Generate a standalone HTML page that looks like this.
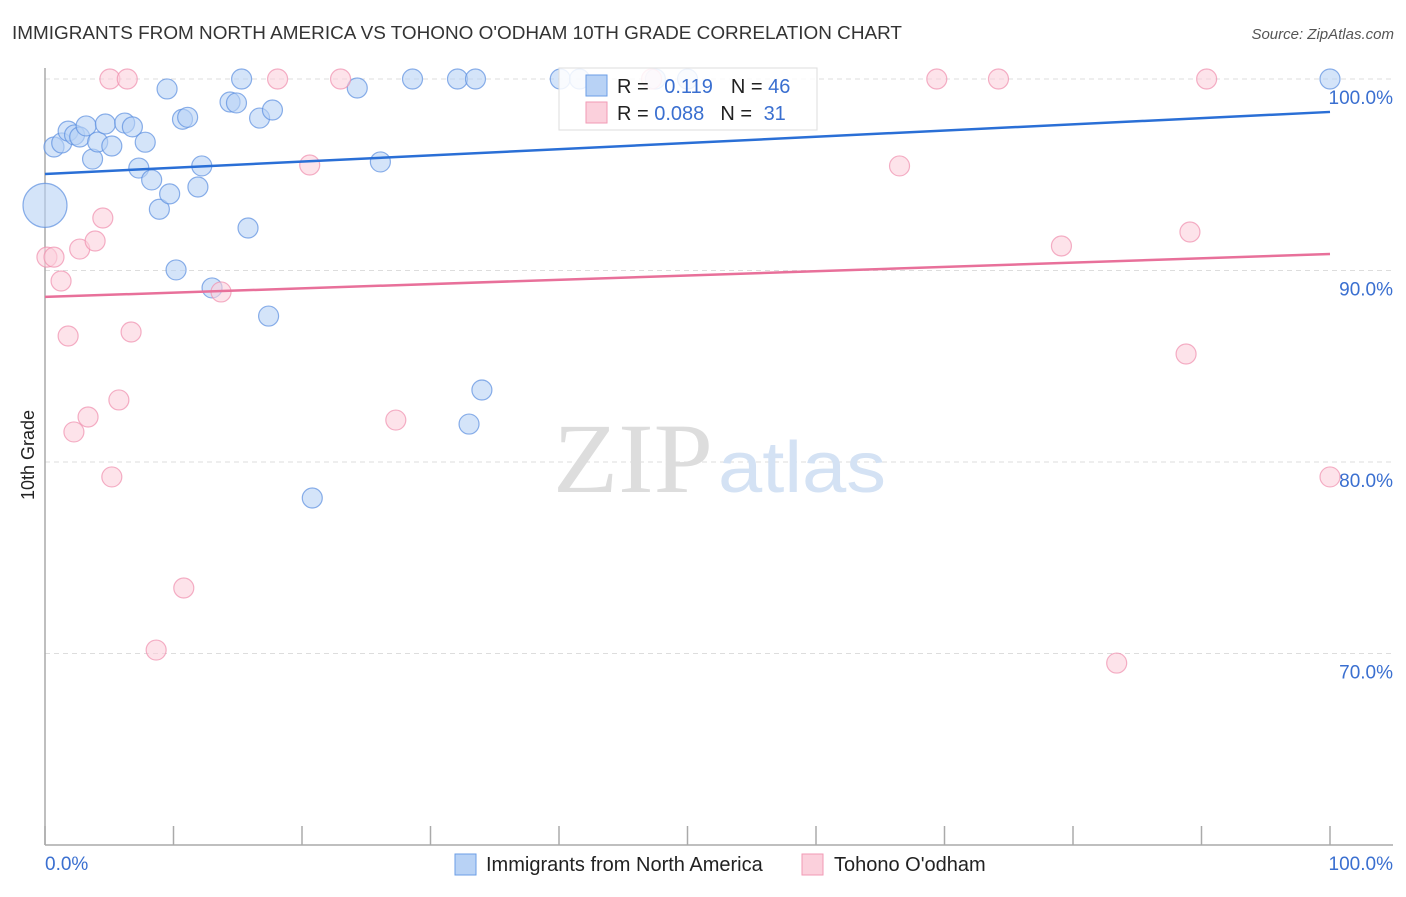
<!DOCTYPE html>
<html><head><meta charset="utf-8"><style>
body{margin:0;background:#fff;font-family:"Liberation Sans",sans-serif;}
</style></head><body>
<svg width="1406" height="892" viewBox="0 0 1406 892" xmlns="http://www.w3.org/2000/svg" font-family="Liberation Sans, sans-serif">
<text x="12" y="39" font-size="18" fill="#333" textLength="890" lengthAdjust="spacingAndGlyphs">IMMIGRANTS FROM NORTH AMERICA VS TOHONO O'ODHAM 10TH GRADE CORRELATION CHART</text>
<text x="1394" y="39" font-size="15" fill="#555" font-style="italic" text-anchor="end">Source: ZipAtlas.com</text>
<g id="grid"></g>
<text x="553" y="492" font-size="100" fill="#ddd" style="font-family:'Liberation Serif',serif" textLength="160" lengthAdjust="spacingAndGlyphs">ZIP</text>
<text x="718" y="492" font-size="72" fill="#d4e2f4" textLength="168" lengthAdjust="spacingAndGlyphs">atlas</text>
<line x1="45" y1="68" x2="45" y2="845" stroke="#aaa" stroke-width="1.5"/>
<line x1="45" y1="845" x2="1393" y2="845" stroke="#aaa" stroke-width="1.5"/>
<text transform="translate(34,455) rotate(-90)" font-size="18" fill="#222" text-anchor="middle">10th Grade</text>
<text x="45" y="870" font-size="19" fill="#3a6fd0">0.0%</text>
<text x="1393" y="870" font-size="19" fill="#3a6fd0" text-anchor="end">100.0%</text>
<g id="marks"></g>
<g>
<rect x="559" y="68" width="258" height="62" fill="#fff" fill-opacity="0.85" stroke="#ddd"/>
<rect x="586" y="75" width="21" height="21" fill="#b8d2f5" stroke="#6b9ee6"/>
<rect x="586" y="102" width="21" height="21" fill="#fbd0dc" stroke="#f19ab5"/>
<text x="617" y="93" font-size="20" fill="#222">R = <tspan fill="#3a6fd0" dx="10">0.119</tspan><tspan dx="18">N = </tspan><tspan fill="#3a6fd0">46</tspan></text>
<text x="617" y="120" font-size="20" fill="#222">R = <tspan fill="#3a6fd0">0.088</tspan><tspan dx="16">N = </tspan><tspan fill="#3a6fd0" dx="6">31</tspan></text>
</g>
<g>
<rect x="455" y="854" width="21" height="21" fill="#b8d2f5" stroke="#6b9ee6"/>
<text x="486" y="871" font-size="20" fill="#222">Immigrants from North America</text>
<rect x="802" y="854" width="21" height="21" fill="#fbd0dc" stroke="#f19ab5"/>
<text x="834" y="871" font-size="20" fill="#222">Tohono O'odham</text>
</g>
</svg>
<script>
const yTicks=[100,90,80,70];
const xTickCount=10;
const blueX=[0.7,1.3,1.8,2.3,2.7,3.2,3.7,4.1,4.7,5.2,6.2,6.8,7.3,7.8,8.3,8.9,9.5,9.7,10.2,10.7,11.1,11.9,12.2,13.0,14.4,14.9,15.3,15.8,16.7,17.4,17.7,20.8,24.3,26.1,28.6,32.1,33.5,33.0,34.0,40.1,41.6,47.5,50.0,100,0];
const blueY=[96.45,96.66,97.28,97.08,96.97,97.55,95.82,96.71,97.65,96.5,97.7,97.5,95.35,96.7,94.73,93.2,99.48,94.0,90.03,97.9,98.0,94.36,95.46,89.09,98.8,98.75,100,92.22,97.96,87.62,98.38,78.12,99.53,95.67,100,100,100,81.98,83.76,100,100,100,100,100,93.4];
const blueSize=[1,1,1,1,1,1,1,1,1,1,1,1,1,1,1,1,1,1,1,1,1,1,1,1,1,1,1,1,1,1,1,1,1,1,1,1,1,1,1,1,1,1,1,1,2.2];
const pinkX=[0.15,0.7,1.25,1.8,2.25,2.7,3.35,3.9,4.5,5.05,5.2,5.75,6.4,6.7,8.65,10.8,13.7,18.1,20.6,23.0,27.3,47.2,66.5,69.4,74.2,79.1,83.4,88.8,89.1,90.4,100];
const pinkY=[90.7,90.7,89.45,86.58,81.57,91.12,82.35,91.54,92.74,100,79.22,83.24,100,86.79,70.18,73.42,88.88,100,95.51,100,82.19,100,95.46,100,100,91.28,69.5,85.64,92.01,100,79.22];
const blueTrend=[95.04,98.28];
const pinkTrend=[88.62,90.86];
const NS="http://www.w3.org/2000/svg";
const xS=v=>45+v*12.85;
const yS=v=>79+(100-v)*19.15;
const grid=document.getElementById('grid');
const marks=document.getElementById('marks');
function mk(tag,attrs,parent){const e=document.createElementNS(NS,tag);for(const k in attrs)e.setAttribute(k,attrs[k]);parent.appendChild(e);return e;}
yTicks.forEach(t=>{
 const l=mk('line',{x1:45,x2:1393,y1:yS(t),y2:yS(t),stroke:'#ddd','stroke-dasharray':'5,4'},grid);
 
 
 const tx=mk('text',{x:1393,y:yS(t)+25,'font-size':19,fill:'#3a6fd0','text-anchor':'end'},grid);
 tx.textContent=t.toFixed(1)+'%';
 
 
});
for(let i=0;i<=xTickCount;i++){
 const x=xS(i*100/xTickCount);
 const l=mk('line',{x1:x,x2:x,y1:826,y2:845,stroke:'#aaa','stroke-width':1.5},grid);
 
 
}
blueX.forEach((x,i)=>{
 const c=mk('circle',{cx:xS(x),cy:yS(blueY[i]),r:10*blueSize[i],fill:'#b8d2f5','fill-opacity':0.6,stroke:'#5b8fe0','stroke-opacity':0.7,'stroke-width':1.2},marks);
 
 
});
pinkX.forEach((x,i)=>{
 const c=mk('circle',{cx:xS(x),cy:yS(pinkY[i]),r:10,fill:'#fbd0dc','fill-opacity':0.6,stroke:'#ef8fae','stroke-opacity':0.7,'stroke-width':1.2},marks);
 
 
});
const bl=mk('line',{x1:xS(0),x2:xS(100),y1:yS(blueTrend[0]),y2:yS(blueTrend[1]),stroke:'#2a6fd6','stroke-width':2.5},marks);


const pl=mk('line',{x1:xS(0),x2:xS(100),y1:yS(pinkTrend[0]),y2:yS(pinkTrend[1]),stroke:'#e8709a','stroke-width':2.5},marks);


</script>
</body></html>
